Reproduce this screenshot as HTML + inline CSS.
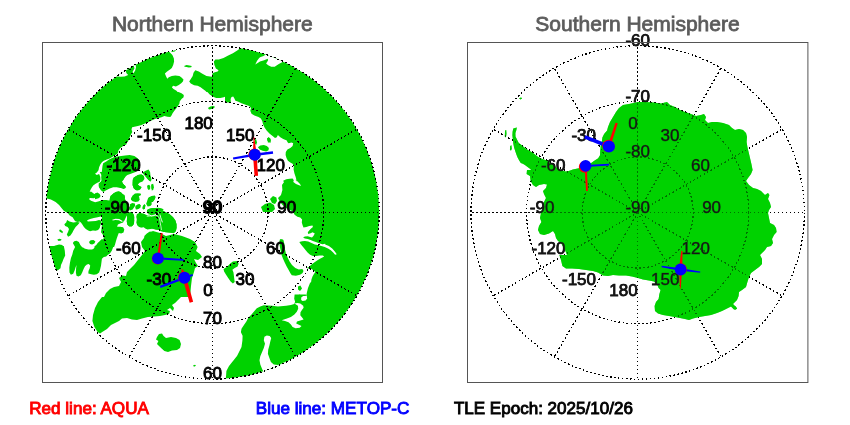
<!DOCTYPE html>
<html><head><meta charset="utf-8"><title>Satellite passes</title>
<style>html,body{margin:0;padding:0;background:#fff}svg{display:block}text{font-family:"Liberation Sans",sans-serif}</style></head><body>
<svg width="850" height="425" viewBox="0 0 850 425">
<rect width="850" height="425" fill="#fff"/>
<defs><clipPath id="cn"><circle cx="212.5" cy="212.5" r="166.7"/></clipPath><clipPath id="cs"><circle cx="637.7" cy="212.5" r="166.7"/></clipPath></defs>
<g clip-path="url(#cn)" fill="#00d200" stroke="none">
<path d="M168.2 49.1 L169.4 52.0 L172.4 54.9 L173.9 58.5 L174.1 61.4 L173.2 64.9 L171.8 67.9 L170.0 69.6 L167.1 71.4 L164.9 73.5 L165.9 76.1 L167.3 78.7 L168.8 77.3 L171.8 76.1 L175.3 75.5 L179.4 75.9 L181.2 77.3 L183.5 79.4 L182.9 81.4 L181.2 83.2 L178.8 84.9 L175.9 86.5 L173.2 85.8 L171.8 87.3 L173.5 89.1 L176.5 90.8 L177.6 92.0 L178.5 92.0 L181.5 93.2 L183.8 94.9 L183.6 97.3 L181.5 99.1 L179.7 101.4 L179.4 103.8 L177.9 106.1 L176.2 108.5 L174.4 110.8 L172.6 113.2 L171.5 115.5 L170.3 116.9 L167.4 116.7 L164.4 116.1 L161.5 117.3 L158.5 118.1 L155.6 118.8 L152.1 120.2 L148.5 122.0 L145.0 123.5 L141.5 124.9 L137.9 126.1 L134.4 126.7 L132.1 127.3 L131.5 129.6 L132.3 132.0 L130.9 134.4 L129.7 137.3 L128.5 140.2 L127.9 142.0 L127.4 142.0 L126.2 144.4 L123.2 146.1 L120.3 147.9 L118.5 150.2 L117.9 153.2 L115.6 154.9 L112.6 156.7 L109.7 158.5 L106.8 159.6 L103.8 160.8 L102.1 162.0 L100.3 164.4 L99.1 167.3 L98.5 170.2 L96.8 172.4 L95.0 173.8 L96.8 174.9 L99.1 174.0 L100.3 176.7 L100.5 179.6 L99.7 181.8 L97.9 182.6 L95.6 183.8 L93.2 185.5 L91.5 187.9 L90.3 190.2 L89.7 192.0 L91.0 191.4 L94.3 194.0 L96.8 193.1 L98.3 194.7 L96.6 196.9 L93.8 198.2 L90.1 198.0 L88.9 199.1 L91.0 200.8 L95.2 202.2 L99.0 201.3 L102.3 200.1 L106.1 199.9 L109.4 200.6 L110.3 196.1 L112.6 194.2 L115.5 192.4 L118.3 191.4 L121.1 192.4 L123.0 194.2 L124.4 196.6 L125.4 199.9 L127.7 203.6 L129.1 208.4 L128.2 212.1 L127.7 213.9 L125.8 217.6 L123.9 221.4 L122.1 217.6 L117.4 215.8 L112.6 216.7 L107.0 218.6 L103.2 220.5 L101.8 216.2 L97.6 217.2 L93.8 218.1 L90.1 219.1 L87.7 220.0 L87.0 220.9 L88.2 221.6 L91.9 221.2 L95.7 220.9 L99.0 220.0 L100.9 220.5 L101.2 222.4 L100.4 225.2 L99.7 228.0 L98.1 229.9 L95.7 230.8 L92.9 230.6 L90.1 231.3 L88.2 230.4 L85.8 228.9 L83.9 227.1 L82.5 224.7 L81.1 222.8 L79.7 221.4 L77.8 221.9 L75.9 221.4 L75.0 220.9 L72.6 217.3 L69.7 215.5 L67.9 213.2 L63.8 210.8 L61.5 207.9 L59.1 204.9 L55.6 202.0 L50.9 199.6 L46.8 198.5 L40.3 196.7 L20.0 150.0 L20.0 20.0 L150.0 20.0Z"/>
<path d="M171.2 51.2 L174.1 50.0 L176.2 50.2 L174.7 51.4 L171.8 52.1Z"/>
<path d="M184.1 65.9 L186.5 65.1 L189.4 65.5 L191.8 66.1 L191.2 67.3 L188.8 67.6 L186.5 66.9 L184.7 66.7Z"/>
<path d="M242.4 45.5 L240.6 48.1 L237.6 50.2 L232.9 53.2 L228.2 55.5 L223.5 57.9 L218.8 59.4 L215.3 59.6 L213.9 61.4 L214.4 64.9 L215.9 68.5 L218.6 70.2 L217.6 71.4 L214.1 72.4 L212.4 73.5 L211.8 76.7 L210.0 76.4 L206.5 75.9 L202.4 73.8 L198.8 71.6 L195.3 70.2 L193.5 72.8 L192.7 76.1 L190.8 79.1 L189.2 81.4 L190.8 83.4 L194.1 85.3 L197.6 85.8 L200.6 87.3 L202.9 89.1 L205.3 90.8 L206.5 92.0 L207.4 92.0 L209.7 94.4 L212.6 96.5 L216.2 97.9 L220.3 98.1 L223.8 97.3 L225.0 96.7 L225.0 102.0 L227.9 102.6 L230.9 102.4 L230.6 99.1 L231.5 96.9 L233.2 96.5 L234.4 98.5 L235.4 100.8 L237.9 101.4 L241.5 103.2 L245.6 104.7 L249.1 106.1 L251.1 107.9 L250.3 110.8 L251.5 113.8 L254.4 115.5 L258.5 116.9 L260.9 118.5 L262.4 121.4 L262.9 123.8 L264.4 127.3 L266.8 130.8 L269.7 133.8 L272.6 136.1 L275.0 137.9 L276.8 137.3 L277.9 134.9 L280.3 137.3 L283.2 139.1 L286.8 140.5 L287.4 142.0 L288.5 143.2 L291.5 142.4 L293.2 143.2 L292.6 146.1 L290.3 147.9 L287.4 149.6 L285.8 152.0 L285.6 154.9 L286.5 157.9 L287.9 160.8 L290.3 162.4 L292.6 163.8 L293.8 166.1 L293.6 169.6 L294.4 173.2 L295.6 176.7 L296.2 179.1 L296.4 182.0 L295.6 179.4 L300.0 184.0 L301.0 186.0 L296.0 184.0 L292.0 181.0 L288.0 179.4 L284.4 181.4 L282.0 185.0 L282.4 190.0 L281.0 195.0 L278.0 198.0 L280.0 202.0 L283.0 205.4 L286.0 208.0 L290.0 210.0 L294.0 212.0 L293.2 212.0 L294.6 214.8 L297.4 216.7 L300.2 217.6 L302.1 219.5 L301.8 222.4 L302.6 225.2 L303.5 227.5 L306.4 227.1 L309.2 226.1 L312.5 225.6 L312.9 227.1 L311.1 228.5 L309.2 230.4 L307.8 232.2 L308.2 234.1 L310.6 233.2 L312.5 232.2 L314.8 233.6 L313.4 236.0 L312.0 237.4 L310.1 236.9 L307.8 236.3 L304.9 236.5 L303.1 237.4 L304.9 238.5 L307.8 239.0 L310.6 240.0 L312.9 240.9 L315.8 242.1 L319.1 243.2 L322.4 244.2 L325.2 243.7 L325.2 244.4 L328.9 246.0 L332.2 248.4 L334.6 251.2 L336.8 254.2 L335.1 254.8 L333.2 252.5 L330.8 250.3 L328.0 248.4 L324.7 246.9 L321.4 246.0 L317.6 245.0 L314.8 244.5 L311.5 243.1 L308.2 241.6 L304.9 241.0 L302.1 241.2 L299.3 242.1 L299.3 242.0 L301.2 244.8 L303.5 247.6 L305.9 250.5 L307.8 252.8 L310.1 254.7 L312.9 256.1 L316.2 256.1 L319.5 255.6 L322.8 255.6 L324.2 256.6 L322.4 257.5 L319.5 258.9 L316.7 260.8 L313.9 262.7 L311.5 264.6 L309.2 266.7 L306.8 267.9 L308.2 268.4 L311.1 268.8 L313.4 270.2 L315.3 272.1 L313.9 274.0 L312.5 276.4 L311.5 279.2 L311.1 282.0 L310.0 283.0 L308.0 288.0 L307.0 292.0 L306.0 297.0 L305.9 297.0 L305.9 294.6 L294.6 294.6 L294.2 298.8 L295.1 301.7 L294.2 304.1 L290.9 305.0 L286.2 305.7 L277.9 306.4 L272.1 305.8 L263.8 305.2 L260.3 306.4 L256.8 308.2 L254.4 311.1 L251.5 314.6 L248.5 317.6 L246.2 321.7 L243.8 325.2 L241.5 328.8 L240.9 332.3 L242.6 335.8 L242.4 340.5 L241.5 347.0 L237.0 356.0 L233.0 361.0 L229.0 366.0 L226.4 371.0 L226.0 377.0 L224.0 385.0 L400.0 400.0 L400.0 20.0 L300.0 20.0Z"/>
<path d="M207.9 107.9 L210.3 106.4 L213.2 105.9 L215.0 106.7 L213.8 108.2 L211.5 109.1 L209.1 109.4Z"/>
<path d="M267.0 138.5 L268.5 137.3 L270.3 138.5 L270.9 140.5 L269.1 142.0 L267.4 140.8Z"/>
<path d="M257.9 147.3 L260.3 145.5 L263.8 144.9 L266.8 145.9 L268.9 147.9 L268.5 150.2 L266.2 151.4 L262.6 150.8 L259.7 149.6Z"/>
<path d="M254.8 139.1 L256.2 139.6 L257.0 142.6 L256.2 144.9 L255.0 143.8Z"/>
<path d="M267.4 138.5 L268.8 137.3 L270.3 139.1 L270.9 142.6 L267.9 142.6Z"/>
<path d="M270.0 199.0 L273.0 196.0 L276.4 197.4 L277.0 201.0 L275.0 204.0 L272.0 203.0Z"/>
<path d="M261.0 207.0 L265.0 204.0 L270.0 202.6 L274.0 205.0 L275.0 209.0 L272.0 212.0 L263.0 212.0Z"/>
<path d="M283.2 180.8 L286.2 179.3 L289.7 178.8 L292.6 178.5 L293.8 180.2 L293.2 182.0 L283.8 182.0Z"/>
<path d="M280.6 239.1 L282.9 239.5 L283.5 240.3 L284.5 244.4 L284.9 249.1 L285.9 253.2 L287.6 257.4 L289.6 261.5 L292.0 265.0 L295.3 267.9 L298.8 269.5 L302.4 269.1 L303.5 270.9 L302.4 273.2 L300.0 274.8 L295.9 275.7 L291.8 275.2 L290.4 273.2 L288.8 270.3 L286.8 266.8 L284.7 262.6 L282.9 258.5 L281.4 254.4 L280.6 250.3 L279.8 246.2 L279.4 242.1 L279.8 239.7Z"/>
<path d="M223.5 269.1 L227.1 266.8 L230.0 263.8 L232.9 261.5 L237.6 261.1 L238.6 263.8 L237.6 266.5 L234.7 267.9 L232.4 269.7 L233.5 272.6 L234.1 277.4 L234.7 282.1 L232.9 283.5 L230.6 281.5 L228.2 277.9 L225.9 274.4 L224.1 271.5Z"/>
<path d="M298.0 286.4 L300.4 285.6 L302.0 288.4 L300.0 291.0 L298.0 289.6Z"/>
<path d="M297.0 295.6 L300.0 294.4 L302.0 297.0 L297.6 297.6Z"/>
<path d="M144.0 238.0 L148.0 233.0 L153.0 231.0 L160.0 233.0 L166.0 236.0 L174.0 234.0 L182.0 236.0 L190.0 239.0 L195.0 242.0 L197.6 247.0 L196.0 251.0 L200.0 254.0 L202.0 257.0 L198.0 260.0 L194.0 259.0 L196.0 263.0 L198.0 266.0 L195.0 268.0 L194.0 272.0 L192.0 278.0 L191.0 286.0 L190.0 297.0 L181.0 297.0 L178.0 300.0 L175.0 303.0 L172.0 305.0 L174.0 308.0 L173.0 311.0 L170.0 308.0 L167.0 310.0 L170.0 311.0 L169.0 314.0 L165.0 315.0 L160.0 316.0 L154.0 316.6 L148.0 317.0 L142.0 318.6 L137.0 320.0 L132.0 319.4 L127.0 318.0 L122.0 318.6 L119.0 321.0 L115.0 323.0 L111.0 325.0 L107.0 329.0 L103.0 331.4 L100.0 333.4 L97.6 332.0 L94.4 327.0 L92.4 321.0 L93.0 315.0 L95.0 308.0 L98.0 302.0 L102.0 297.0 L104.0 297.0 L106.0 293.0 L110.0 289.0 L114.0 287.0 L119.0 286.0 L121.0 282.0 L119.0 278.0 L122.0 275.6 L126.0 276.0 L127.0 272.0 L130.0 269.0 L134.0 265.0 L138.0 260.0 L142.0 255.0 L145.0 251.0 L142.0 247.0 L141.0 242.0Z"/>
<path d="M157.0 337.0 L159.0 334.0 L162.0 333.4 L163.6 336.0 L166.0 338.0 L171.0 337.0 L176.0 338.0 L179.6 340.0 L181.0 344.0 L180.0 348.0 L177.0 350.0 L172.0 350.6 L168.0 352.0 L164.4 351.0 L161.6 348.6 L159.0 346.0 L157.0 344.0 L158.4 341.0 L156.0 339.4Z"/>
<path d="M193.0 365.6 L195.0 364.8 L196.0 365.8 L194.0 366.8Z"/>
<path d="M102.6 165.5 L103.2 163.2 L106.2 161.4 L109.1 159.6 L113.2 157.5 L115.6 156.7 L125.0 155.5 L129.7 154.9 L134.4 156.1 L137.9 158.5 L139.1 160.8 L139.7 165.5 L139.1 169.6 L135.6 172.0 L130.9 173.8 L127.4 174.9 L125.0 176.7 L123.8 179.6 L122.1 181.4 L122.6 183.8 L125.0 185.5 L126.2 187.3 L123.8 188.5 L120.3 187.9 L116.8 187.3 L113.2 187.3 L109.7 188.5 L106.2 190.2 L103.2 192.0 L100.9 190.2 L99.1 185.5 L98.5 183.8 L100.3 182.6 L101.5 180.8 L101.2 177.3 L101.5 173.8 L102.1 169.6 L102.4 166.7Z"/>
<path d="M142.1 172.8 L145.6 170.8 L148.5 169.6 L150.1 172.0 L150.5 176.1 L151.2 179.6 L150.3 181.4 L147.9 179.6 L145.6 176.7 L143.8 174.4Z"/>
<path d="M133.2 179.1 L135.0 176.7 L137.9 174.9 L141.5 174.4 L143.8 176.1 L144.4 179.1 L142.6 181.4 L139.7 182.6 L137.9 184.4 L139.1 186.1 L141.5 187.3 L139.7 189.6 L136.2 190.2 L133.8 188.5 L132.6 184.9 L132.9 182.0Z"/>
<path d="M147.4 185.5 L149.1 184.7 L150.3 186.7 L150.1 189.6 L148.2 189.1Z"/>
<path d="M151.7 184.4 L153.2 183.8 L153.8 187.3 L152.9 190.2 L151.7 188.5Z"/>
<path d="M99.7 172.0 L127.5 172.0 L126.5 174.8 L125.1 177.2 L123.2 179.1 L121.8 181.4 L123.2 183.8 L125.1 186.1 L125.6 188.0 L123.7 188.9 L121.4 188.0 L119.0 186.6 L116.2 185.6 L113.4 186.1 L110.5 187.1 L108.2 188.0 L105.4 188.9 L103.0 189.9 L100.6 189.4 L99.0 187.5 L98.6 185.2 L99.7 182.8 L101.6 180.9 L103.0 178.6 L102.1 175.8 L100.6 173.4Z"/>
<path d="M132.6 180.0 L133.6 177.6 L135.9 176.2 L138.8 174.8 L141.6 174.4 L143.5 175.8 L144.4 178.1 L143.0 180.5 L140.6 181.9 L138.3 182.8 L137.8 184.7 L139.7 186.1 L141.6 187.1 L140.2 189.4 L137.8 190.4 L135.5 189.9 L133.6 188.0 L132.6 185.2 L132.5 182.4Z"/>
<path d="M143.5 172.0 L146.3 172.0 L149.1 174.4 L151.0 177.2 L151.5 180.0 L150.5 181.4 L148.6 180.0 L146.8 177.2 L144.9 174.4Z"/>
<path d="M147.2 186.1 L148.6 185.0 L150.1 186.1 L149.8 188.9 L148.5 190.1 L147.5 188.5Z"/>
<path d="M151.2 184.7 L152.4 183.8 L153.4 186.1 L153.2 189.4 L151.9 190.8 L151.3 188.0Z"/>
<path d="M111.5 195.5 L113.4 193.2 L116.2 191.8 L119.0 191.3 L120.9 192.2 L122.3 194.1 L124.6 195.1 L125.1 197.4 L123.7 199.3 L122.3 203.1 L118.5 204.0 L113.8 203.1 L111.9 199.3Z"/>
<path d="M131.2 197.9 L132.6 195.5 L135.0 193.6 L137.8 193.2 L140.6 193.5 L141.1 195.1 L139.2 196.0 L138.3 197.9 L139.7 199.8 L138.3 201.6 L135.5 202.1 L132.6 201.2 L131.0 199.8Z"/>
<path d="M148.6 197.4 L151.5 196.0 L154.8 195.5 L155.7 196.9 L154.8 199.3 L153.4 201.2 L151.5 202.6 L149.6 204.0 L147.2 205.4 L146.3 203.5 L147.2 200.7 L147.9 198.8Z"/>
<path d="M143.0 205.9 L144.4 204.0 L145.4 205.4 L144.9 208.2 L143.5 209.2 L142.5 207.8Z"/>
<path d="M135.5 205.9 L137.4 204.5 L139.7 204.0 L140.4 205.4 L139.2 207.3 L137.8 209.2 L135.9 209.6 L135.3 207.8Z"/>
<path d="M95.0 193.6 L97.4 192.5 L99.7 194.1 L100.6 196.0 L99.2 197.9 L96.9 198.8 L95.0 199.3Z"/>
<path d="M128.4 208.2 L130.8 204.9 L133.6 204.5 L134.5 206.8 L132.6 209.6 L129.8 210.6Z"/>
<path d="M160.3 212.5 L163.6 212.1 L166.9 213.0 L170.2 214.9 L173.0 217.2 L175.4 220.5 L176.6 224.3 L176.8 228.1 L175.8 231.4 L173.9 233.2 L170.2 232.8 L166.4 232.3 L162.6 231.8 L160.3 230.9 L158.9 229.0 L159.4 226.2 L160.8 223.4 L162.2 221.9 L161.2 219.6 L160.3 217.2 L159.8 214.9Z"/>
<path d="M137.2 213.9 L140.1 213.0 L142.9 214.4 L145.2 215.8 L148.1 215.4 L150.9 216.3 L153.2 217.2 L156.1 216.3 L158.4 215.4 L159.6 217.2 L160.8 220.1 L161.7 222.2 L160.3 223.8 L159.1 226.2 L158.4 229.0 L156.1 229.5 L153.2 228.5 L150.4 229.0 L147.6 229.5 L145.2 228.5 L143.4 227.1 L141.5 227.6 L139.1 227.1 L137.2 225.2 L136.3 222.4 L136.8 219.6 L136.3 216.8Z"/>
<path d="M147.1 211.1 L148.5 209.2 L151.4 208.3 L155.1 208.1 L158.4 207.8 L161.2 208.3 L163.6 209.2 L162.6 211.1 L160.3 212.1 L157.0 213.5 L154.2 215.4 L151.4 215.8 L149.0 214.4 L147.4 213.0Z"/>
<path d="M126.9 213.9 L129.2 212.5 L132.1 212.5 L133.9 214.4 L134.4 217.7 L133.9 221.5 L133.5 224.8 L131.6 226.4 L129.2 226.6 L127.4 224.8 L126.7 221.5 L127.1 217.7Z"/>
<path d="M131.1 197.9 L134.4 197.0 L139.1 197.0 L139.6 199.4 L137.2 200.6 L133.9 200.3 L131.6 199.8Z"/>
<path d="M148.1 198.4 L149.9 197.0 L153.7 197.0 L154.2 199.4 L152.8 201.2 L149.9 202.2 L148.3 200.8Z"/>
<path d="M146.5 204.1 L148.5 202.6 L151.4 202.5 L151.8 204.3 L150.4 205.9 L147.6 206.4Z"/>
<path d="M142.9 206.4 L144.3 204.3 L145.2 205.5 L145.0 208.3 L143.6 209.7 L142.6 208.3Z"/>
<path d="M136.5 205.9 L138.6 204.5 L140.8 205.0 L140.5 207.4 L138.6 209.0 L136.8 208.3Z"/>
<path d="M129.7 204.5 L132.1 203.1 L134.9 203.6 L135.2 205.9 L133.0 207.2 L130.2 206.9Z"/>
<path d="M144.3 236.1 L146.6 233.7 L149.9 231.6 L153.2 232.3 L156.1 234.2 L157.5 237.0 L157.0 239.4 L144.3 239.4Z"/>
<path d="M64.3 224.2 L66.2 222.4 L67.1 220.0 L69.5 221.4 L73.2 222.4 L77.0 221.9 L79.8 222.4 L77.9 224.7 L75.6 227.1 L73.7 229.9 L72.3 232.7 L70.4 235.5 L68.1 236.7 L66.8 234.6 L68.1 231.8 L69.0 228.9 L67.6 227.1 L65.2 226.1Z"/>
<path d="M59.1 229.9 L60.5 229.4 L62.4 231.3 L62.9 233.2 L61.0 232.5 L59.6 231.3Z"/>
<path d="M57.2 239.8 L59.1 238.8 L61.5 239.3 L61.0 240.5 L58.6 241.0Z"/>
<path d="M89.0 242.1 L90.6 240.2 L93.5 240.0 L95.4 241.4 L94.4 243.5 L92.1 244.5 L90.0 244.0Z"/>
<path d="M101.9 217.4 L104.2 215.0 L108.0 213.6 L112.2 213.1 L116.5 213.6 L120.2 215.0 L123.1 217.4 L124.0 220.2 L123.1 222.5 L120.2 223.5 L117.9 224.4 L117.1 226.8 L120.2 226.8 L123.1 227.2 L124.3 229.6 L123.5 232.4 L121.2 233.5 L118.8 232.9 L117.9 235.2 L116.9 238.1 L116.0 240.9 L115.1 244.2 L114.1 247.0 L113.2 247.0 L111.8 250.8 L109.9 253.6 L107.6 255.0 L106.2 256.4 L103.8 256.9 L101.9 258.8 L101.5 262.1 L101.0 265.8 L100.1 269.6 L99.1 272.4 L96.8 274.3 L93.9 274.8 L91.1 274.3 L88.3 273.4 L88.5 271.0 L89.7 268.2 L90.2 265.4 L88.8 263.9 L86.9 264.4 L85.0 266.3 L83.6 269.1 L82.2 272.4 L80.8 275.2 L78.4 276.6 L76.5 275.7 L75.9 272.4 L76.1 268.6 L76.5 264.9 L75.6 267.2 L74.6 270.5 L73.2 273.8 L70.9 274.8 L69.5 272.4 L69.3 267.7 L69.9 263.0 L70.9 258.3 L72.3 254.5 L73.2 250.8 L75.1 247.0 L72.8 243.1 L74.2 241.2 L76.5 240.7 L78.9 242.1 L80.3 244.9 L82.2 247.3 L85.0 248.2 L88.3 247.8 L91.6 248.2 L93.9 246.8 L96.3 244.9 L97.7 243.1 L99.6 241.2 L101.5 239.3 L103.4 239.3 L103.8 236.5 L102.4 234.1 L101.0 232.2 L101.5 228.9 L101.9 225.2 L101.5 220.9Z"/>
<path d="M35.6 246.1 L63.8 246.1 L64.8 250.8 L65.2 255.5 L63.4 259.2 L62.4 262.1 L61.0 264.9 L60.5 268.2 L58.2 270.1 L55.8 271.0 L50.6 275.2 L35.6 256.4Z"/>
<path d="M49.7 249.2 L52.1 246.8 L55.4 245.4 L59.1 244.5 L62.4 244.9 L63.4 247.8 L63.4 252.0 L49.7 252.0 L45.0 249.6Z"/>
<path d="M126.8 215.5 L128.2 213.1 L131.1 211.7 L132.9 212.6 L132.5 215.0 L133.4 217.4 L134.4 220.2 L133.9 223.9 L132.0 226.3 L129.2 226.3 L127.3 224.4 L126.8 221.1 L127.3 218.3Z"/>
<path d="M136.7 214.5 L139.5 213.1 L143.3 213.6 L146.6 215.0 L148.9 216.4 L151.8 215.9 L154.6 215.0 L157.4 215.9 L159.3 218.3 L159.8 221.1 L160.2 223.9 L160.7 226.8 L161.2 229.6 L158.4 230.1 L155.1 229.6 L151.8 228.6 L148.9 227.7 L146.1 226.3 L143.3 227.2 L140.5 227.2 L138.1 225.8 L136.9 223.5 L137.6 220.6 L136.9 217.8Z"/>
<path d="M147.1 209.8 L149.9 208.4 L153.6 208.1 L157.4 208.4 L160.2 209.4 L163.5 210.8 L165.9 212.2 L169.6 214.1 L172.9 216.9 L175.3 220.2 L176.4 223.9 L176.2 227.7 L175.3 230.5 L173.4 232.2 L169.6 232.4 L165.9 232.2 L163.1 231.7 L161.6 229.1 L161.0 225.8 L160.2 222.1 L159.8 218.3 L157.9 215.9 L155.1 214.5 L152.2 215.5 L149.4 215.9 L147.5 213.6 L146.9 211.7Z"/>
<g fill="#fff">
<path d="M115.3 76.4 L125.3 70.0 L126.5 73.2 L128.2 74.9 L124.7 76.4 L120.6 76.8 L117.6 76.6Z"/>
<path d="M133.2 65.3 L135.5 64.1 L136.0 67.3 L135.3 70.2 L133.6 73.2 L132.5 72.0 L134.4 68.5 L133.9 66.1Z"/>
<path d="M260.0 57.3 L263.5 55.9 L265.9 54.5 L284.1 61.2 L278.8 64.1 L274.7 66.7 L271.2 66.7 L268.2 65.3 L266.1 63.4 L268.0 60.6 L267.8 58.7 L264.1 60.2 L260.0 61.4 L255.3 64.4 L257.1 60.8 L258.8 58.5Z"/>
<path d="M294.4 303.5 L297.4 302.9 L300.3 303.5 L303.2 305.8 L303.6 307.8 L302.1 309.7 L300.5 312.3 L300.3 315.2 L302.1 317.6 L303.6 319.4 L300.3 320.5 L297.0 321.4 L296.2 323.5 L298.9 324.8 L301.5 325.9 L299.7 327.8 L295.6 328.2 L292.6 327.0 L290.9 324.6 L288.5 322.3 L285.0 321.1 L281.7 320.2 L286.2 318.8 L290.9 317.0 L294.4 314.6 L296.8 311.7 L298.2 308.8 L297.9 305.8Z"/>
<path d="M301.2 297.6 L303.2 296.1 L306.8 296.1 L307.1 298.4 L305.6 300.5 L302.6 301.1 L301.2 299.9Z"/>
<path d="M264.4 336.8 L266.8 335.6 L269.7 335.9 L271.2 337.9 L270.3 341.5 L269.4 345.6 L268.2 349.7 L267.9 353.8 L269.4 357.9 L270.9 362.1 L273.8 364.4 L277.9 365.0 L281.5 363.8 L285.6 361.5 L285.6 365.6 L273.8 371.5 L264.4 373.8 L262.1 369.1 L260.3 364.4 L259.5 360.3 L260.3 356.2 L262.1 352.1 L263.8 347.9 L265.0 343.8 L263.8 340.3Z"/>
<path d="M112.2 219.7 L115.5 218.8 L119.3 219.0 L122.6 221.1 L122.1 221.9 L118.8 220.2 L115.5 220.0 L112.7 220.6Z"/>
<path d="M83.1 246.5 L84.5 248.4 L88.3 249.4 L92.1 249.6 L93.9 248.4 L94.9 246.5Z"/>
</g>
<g fill="none" stroke="#fff" stroke-linecap="round" stroke-linejoin="round"><path stroke-width="0.9" d="M147.4 213.2 L149.0 214.7 L151.4 216.0 L154.2 215.6 L157.0 213.8 L160.0 212.3"/><path stroke-width="0.9" d="M160.0 214.9 L160.6 217.2 L161.5 219.8 L162.3 222.0"/><path stroke-width="0.7" d="M147.1 216.2 L149.4 216.1 L152.2 215.7 L155.1 214.7 L157.6 215.9 L159.5 218.3 L160.0 221.1 L160.4 223.9 L161.0 226.8 L161.4 229.6"/></g>
</g>
<g clip-path="url(#cs)" fill="#00d200" stroke="none">
<path d="M513.3 128.5 L516.8 127.5 L516.4 130.0 L515.4 132.9 L515.5 136.5 L517.1 139.8 L518.8 142.9 L521.8 145.3 L525.3 148.2 L528.8 150.6 L532.4 152.4 L535.3 154.7 L538.2 157.1 L541.8 158.8 L545.3 160.0 L547.6 160.8 L551.8 164.1 L558.8 169.4 L565.3 171.4 L568.8 170.9 L572.9 169.4 L578.8 168.2 L587.1 165.3 L591.2 162.9 L594.7 160.6 L598.2 158.2 L600.0 155.3 L600.2 151.2 L600.6 146.5 L601.8 141.8 L602.4 137.6 L604.1 134.1 L607.1 130.6 L608.0 127.0 L610.0 122.0 L613.0 117.0 L616.0 112.0 L619.0 108.0 L623.0 105.0 L629.0 104.0 L637.0 102.2 L637.0 102.0 L645.0 102.0 L653.0 102.6 L661.0 103.4 L667.0 102.0 L670.0 105.0 L675.0 107.0 L680.0 110.0 L685.0 112.0 L691.0 114.0 L696.0 116.0 L701.0 115.0 L704.0 114.0 L706.0 117.0 L705.0 120.0 L708.0 123.0 L712.0 122.0 L717.0 122.0 L723.0 123.0 L729.0 125.0 L732.0 128.0 L735.0 130.0 L739.0 129.0 L743.0 130.0 L746.0 133.0 L747.0 137.0 L746.6 142.0 L747.4 147.0 L748.6 152.0 L750.0 158.0 L751.4 164.0 L752.6 170.0 L752.6 170.0 L751.0 174.0 L748.0 178.0 L746.0 181.0 L749.0 185.0 L753.0 188.0 L757.0 189.0 L761.0 191.0 L765.0 195.0 L768.0 193.0 L769.4 195.0 L768.0 199.0 L770.0 203.0 L771.0 207.0 L769.0 210.0 L768.0 213.0 L769.0 218.0 L770.0 223.0 L774.0 225.0 L776.0 228.0 L776.6 232.0 L774.0 235.0 L772.0 239.0 L773.0 243.0 L771.0 246.0 L767.0 247.0 L765.0 250.0 L762.0 253.0 L760.0 255.0 L760.0 255.0 L762.0 259.0 L762.0 264.0 L759.0 267.0 L755.0 270.0 L751.0 273.0 L749.0 277.0 L747.4 282.0 L746.0 287.0 L742.0 290.0 L739.0 292.0 L738.6 296.0 L737.0 300.0 L733.0 304.0 L736.0 307.0 L737.0 309.0 L734.0 309.4 L731.0 306.6 L727.0 308.6 L722.0 311.0 L717.0 313.0 L711.0 315.0 L705.0 316.0 L699.0 317.0 L693.0 318.6 L689.0 320.0 L685.0 319.0 L680.0 318.0 L675.0 317.0 L669.0 316.0 L663.0 315.0 L658.0 313.4 L655.0 311.0 L654.6 306.0 L656.0 302.0 L658.6 299.0 L659.4 294.0 L660.6 290.0 L658.6 288.0 L657.0 284.0 L654.0 281.4 L649.0 280.6 L643.0 279.4 L638.0 278.0 L638.0 278.0 L632.0 276.6 L626.0 275.6 L619.0 275.6 L613.0 275.0 L608.0 276.0 L603.0 275.6 L598.0 272.4 L593.0 271.0 L586.0 270.0 L579.0 269.0 L572.0 268.4 L566.0 268.4 L562.4 266.0 L561.0 260.0 L559.4 255.0 L567.0 255.0 L565.0 250.0 L561.0 243.0 L558.0 241.0 L556.0 238.0 L555.0 234.0 L553.0 231.0 L549.0 233.6 L544.0 235.0 L540.0 234.0 L538.0 230.0 L539.0 226.0 L541.4 222.0 L540.0 218.0 L541.0 213.0 L542.6 208.0 L544.0 202.0 L546.0 198.0 L544.0 194.0 L543.0 191.0 L546.0 188.0 L547.0 184.4 L544.0 184.0 L539.0 185.0 L536.0 187.0 L533.0 185.0 L530.6 181.0 L530.0 176.0 L526.6 174.0 L527.0 170.0 L531.2 170.0 L530.0 168.8 L527.6 167.1 L525.3 165.3 L522.9 163.8 L520.8 162.9 L519.2 160.6 L517.6 157.6 L516.5 154.7 L515.3 151.2 L514.1 147.6 L513.3 143.5 L512.9 139.4 L512.4 135.3 L512.6 131.8Z"/>
<path d="M505.1 130.6 L506.2 130.0 L506.5 134.1 L505.9 137.6 L504.8 136.5Z"/>
<path d="M510.2 145.9 L511.4 145.3 L511.8 148.8 L510.9 150.8 L510.0 149.4Z"/>
<path d="M519.0 98.2 L521.0 97.4 L522.2 98.2 L520.6 99.4Z"/>
<path d="M732.6 306.6 L735.0 306.0 L737.0 308.6 L735.0 309.8Z"/>
</g>
<g fill="none" stroke="#000" stroke-width="1.3" stroke-dasharray="1.7 2.3" shape-rendering="crispEdges">
<circle cx="212.5" cy="212.5" r="166.70"/>
<circle cx="212.5" cy="212.5" r="111.13"/>
<circle cx="212.5" cy="212.5" r="55.57"/>
<line x1="212.50" y1="212.50" x2="212.50" y2="379.20"/>
<line x1="212.50" y1="212.50" x2="295.85" y2="356.87"/>
<line x1="212.50" y1="212.50" x2="356.87" y2="295.85"/>
<line x1="212.50" y1="212.50" x2="379.20" y2="212.50"/>
<line x1="212.50" y1="212.50" x2="356.87" y2="129.15"/>
<line x1="212.50" y1="212.50" x2="295.85" y2="68.13"/>
<line x1="212.50" y1="212.50" x2="212.50" y2="45.80"/>
<line x1="212.50" y1="212.50" x2="129.15" y2="68.13"/>
<line x1="212.50" y1="212.50" x2="68.13" y2="129.15"/>
<line x1="212.50" y1="212.50" x2="45.80" y2="212.50"/>
<line x1="212.50" y1="212.50" x2="68.13" y2="295.85"/>
<line x1="212.50" y1="212.50" x2="129.15" y2="356.87"/>
</g>
<g fill="none" stroke="#000" stroke-width="1.3" stroke-dasharray="1.7 2.3" shape-rendering="crispEdges">
<circle cx="637.7" cy="212.5" r="166.70"/>
<circle cx="637.7" cy="212.5" r="111.13"/>
<circle cx="637.7" cy="212.5" r="55.57"/>
<line x1="637.70" y1="212.50" x2="637.70" y2="379.20"/>
<line x1="637.70" y1="212.50" x2="721.05" y2="356.87"/>
<line x1="637.70" y1="212.50" x2="782.07" y2="295.85"/>
<line x1="637.70" y1="212.50" x2="804.40" y2="212.50"/>
<line x1="637.70" y1="212.50" x2="782.07" y2="129.15"/>
<line x1="637.70" y1="212.50" x2="721.05" y2="68.13"/>
<line x1="637.70" y1="212.50" x2="637.70" y2="45.80"/>
<line x1="637.70" y1="212.50" x2="554.35" y2="68.13"/>
<line x1="637.70" y1="212.50" x2="493.33" y2="129.15"/>
<line x1="637.70" y1="212.50" x2="471.00" y2="212.50"/>
<line x1="637.70" y1="212.50" x2="493.33" y2="295.85"/>
<line x1="637.70" y1="212.50" x2="554.35" y2="356.87"/>
</g>
<text x="596.03" y="284.88" text-anchor="end" font-size="17" fill="#161616" stroke="#161616" stroke-width="0.75">-150</text>
<text x="565.52" y="254.37" text-anchor="end" font-size="17" fill="#161616" stroke="#161616" stroke-width="0.75">-120</text>
<text x="554.35" y="212.70" text-anchor="end" font-size="17" fill="#161616" stroke="#161616" stroke-width="0.75">-90</text>
<text x="565.52" y="171.02" text-anchor="end" font-size="17" fill="#161616" stroke="#161616" stroke-width="0.75">-60</text>
<text x="596.03" y="140.52" text-anchor="end" font-size="17" fill="#161616" stroke="#161616" stroke-width="0.75">-30</text>
<text x="637.70" y="129.35" text-anchor="end" font-size="17" fill="#161616" stroke="#161616" stroke-width="0.75">0</text>
<text x="679.38" y="140.52" text-anchor="end" font-size="17" fill="#161616" stroke="#161616" stroke-width="0.75">30</text>
<text x="709.88" y="171.02" text-anchor="end" font-size="17" fill="#161616" stroke="#161616" stroke-width="0.75">60</text>
<text x="721.05" y="212.70" text-anchor="end" font-size="17" fill="#161616" stroke="#161616" stroke-width="0.75">90</text>
<text x="709.88" y="254.37" text-anchor="end" font-size="17" fill="#161616" stroke="#161616" stroke-width="0.75">120</text>
<text x="679.38" y="284.88" text-anchor="end" font-size="17" fill="#161616" stroke="#161616" stroke-width="0.75">150</text>
<text x="637.70" y="296.05" text-anchor="end" font-size="17" fill="#161616" stroke="#161616" stroke-width="0.75">180</text>
<text x="637.70" y="212.70" text-anchor="middle" font-size="17" fill="#161616" stroke="#161616" stroke-width="0.75">-90</text>
<text x="637.70" y="157.13" text-anchor="middle" font-size="17" fill="#161616" stroke="#161616" stroke-width="0.75">-80</text>
<text x="637.70" y="101.57" text-anchor="middle" font-size="17" fill="#161616" stroke="#161616" stroke-width="0.75">-70</text>
<text x="637.70" y="46.00" text-anchor="middle" font-size="17" fill="#161616" stroke="#161616" stroke-width="0.75">-60</text>
<g clip-path="url(#cs)" fill="#00d200" fill-opacity="0.55" stroke="none">
<path d="M513.3 128.5 L516.8 127.5 L516.4 130.0 L515.4 132.9 L515.5 136.5 L517.1 139.8 L518.8 142.9 L521.8 145.3 L525.3 148.2 L528.8 150.6 L532.4 152.4 L535.3 154.7 L538.2 157.1 L541.8 158.8 L545.3 160.0 L547.6 160.8 L551.8 164.1 L558.8 169.4 L565.3 171.4 L568.8 170.9 L572.9 169.4 L578.8 168.2 L587.1 165.3 L591.2 162.9 L594.7 160.6 L598.2 158.2 L600.0 155.3 L600.2 151.2 L600.6 146.5 L601.8 141.8 L602.4 137.6 L604.1 134.1 L607.1 130.6 L608.0 127.0 L610.0 122.0 L613.0 117.0 L616.0 112.0 L619.0 108.0 L623.0 105.0 L629.0 104.0 L637.0 102.2 L637.0 102.0 L645.0 102.0 L653.0 102.6 L661.0 103.4 L667.0 102.0 L670.0 105.0 L675.0 107.0 L680.0 110.0 L685.0 112.0 L691.0 114.0 L696.0 116.0 L701.0 115.0 L704.0 114.0 L706.0 117.0 L705.0 120.0 L708.0 123.0 L712.0 122.0 L717.0 122.0 L723.0 123.0 L729.0 125.0 L732.0 128.0 L735.0 130.0 L739.0 129.0 L743.0 130.0 L746.0 133.0 L747.0 137.0 L746.6 142.0 L747.4 147.0 L748.6 152.0 L750.0 158.0 L751.4 164.0 L752.6 170.0 L752.6 170.0 L751.0 174.0 L748.0 178.0 L746.0 181.0 L749.0 185.0 L753.0 188.0 L757.0 189.0 L761.0 191.0 L765.0 195.0 L768.0 193.0 L769.4 195.0 L768.0 199.0 L770.0 203.0 L771.0 207.0 L769.0 210.0 L768.0 213.0 L769.0 218.0 L770.0 223.0 L774.0 225.0 L776.0 228.0 L776.6 232.0 L774.0 235.0 L772.0 239.0 L773.0 243.0 L771.0 246.0 L767.0 247.0 L765.0 250.0 L762.0 253.0 L760.0 255.0 L760.0 255.0 L762.0 259.0 L762.0 264.0 L759.0 267.0 L755.0 270.0 L751.0 273.0 L749.0 277.0 L747.4 282.0 L746.0 287.0 L742.0 290.0 L739.0 292.0 L738.6 296.0 L737.0 300.0 L733.0 304.0 L736.0 307.0 L737.0 309.0 L734.0 309.4 L731.0 306.6 L727.0 308.6 L722.0 311.0 L717.0 313.0 L711.0 315.0 L705.0 316.0 L699.0 317.0 L693.0 318.6 L689.0 320.0 L685.0 319.0 L680.0 318.0 L675.0 317.0 L669.0 316.0 L663.0 315.0 L658.0 313.4 L655.0 311.0 L654.6 306.0 L656.0 302.0 L658.6 299.0 L659.4 294.0 L660.6 290.0 L658.6 288.0 L657.0 284.0 L654.0 281.4 L649.0 280.6 L643.0 279.4 L638.0 278.0 L638.0 278.0 L632.0 276.6 L626.0 275.6 L619.0 275.6 L613.0 275.0 L608.0 276.0 L603.0 275.6 L598.0 272.4 L593.0 271.0 L586.0 270.0 L579.0 269.0 L572.0 268.4 L566.0 268.4 L562.4 266.0 L561.0 260.0 L559.4 255.0 L567.0 255.0 L565.0 250.0 L561.0 243.0 L558.0 241.0 L556.0 238.0 L555.0 234.0 L553.0 231.0 L549.0 233.6 L544.0 235.0 L540.0 234.0 L538.0 230.0 L539.0 226.0 L541.4 222.0 L540.0 218.0 L541.0 213.0 L542.6 208.0 L544.0 202.0 L546.0 198.0 L544.0 194.0 L543.0 191.0 L546.0 188.0 L547.0 184.4 L544.0 184.0 L539.0 185.0 L536.0 187.0 L533.0 185.0 L530.6 181.0 L530.0 176.0 L526.6 174.0 L527.0 170.0 L531.2 170.0 L530.0 168.8 L527.6 167.1 L525.3 165.3 L522.9 163.8 L520.8 162.9 L519.2 160.6 L517.6 157.6 L516.5 154.7 L515.3 151.2 L514.1 147.6 L513.3 143.5 L512.9 139.4 L512.4 135.3 L512.6 131.8Z"/>
<path d="M505.1 130.6 L506.2 130.0 L506.5 134.1 L505.9 137.6 L504.8 136.5Z"/>
<path d="M510.2 145.9 L511.4 145.3 L511.8 148.8 L510.9 150.8 L510.0 149.4Z"/>
<path d="M519.0 98.2 L521.0 97.4 L522.2 98.2 L520.6 99.4Z"/>
<path d="M732.6 306.6 L735.0 306.0 L737.0 308.6 L735.0 309.8Z"/>
</g>
<text x="596.03" y="284.88" text-anchor="end" font-size="17" fill="#161616">-150</text>
<text x="565.52" y="254.37" text-anchor="end" font-size="17" fill="#161616">-120</text>
<text x="554.35" y="212.70" text-anchor="end" font-size="17" fill="#161616">-90</text>
<text x="565.52" y="171.02" text-anchor="end" font-size="17" fill="#161616">-60</text>
<text x="596.03" y="140.52" text-anchor="end" font-size="17" fill="#161616">-30</text>
<text x="637.70" y="129.35" text-anchor="end" font-size="17" fill="#161616">0</text>
<text x="679.38" y="140.52" text-anchor="end" font-size="17" fill="#161616">30</text>
<text x="709.88" y="171.02" text-anchor="end" font-size="17" fill="#161616">60</text>
<text x="721.05" y="212.70" text-anchor="end" font-size="17" fill="#161616">90</text>
<text x="709.88" y="254.37" text-anchor="end" font-size="17" fill="#161616">120</text>
<text x="679.38" y="284.88" text-anchor="end" font-size="17" fill="#161616">150</text>
<text x="637.70" y="296.05" text-anchor="end" font-size="17" fill="#161616">180</text>
<text x="637.70" y="212.70" text-anchor="middle" font-size="17" fill="#161616">-90</text>
<text x="637.70" y="157.13" text-anchor="middle" font-size="17" fill="#161616">-80</text>
<text x="637.70" y="101.57" text-anchor="middle" font-size="17" fill="#161616">-70</text>
<text x="637.70" y="46.00" text-anchor="middle" font-size="17" fill="#161616">-60</text>
<rect x="42.5" y="42.5" width="340" height="340" fill="none" stroke="#555" stroke-width="1"/>
<rect x="467.5" y="42.5" width="340.4" height="340" fill="none" stroke="#555" stroke-width="1"/>
<text x="171.13" y="140.52" text-anchor="end" font-size="17" fill="#000" stroke="#000" stroke-width="0.9">-150</text>
<text x="140.62" y="171.03" text-anchor="end" font-size="17" fill="#000" stroke="#000" stroke-width="0.9">-120</text>
<text x="129.45" y="212.70" text-anchor="end" font-size="17" fill="#000" stroke="#000" stroke-width="0.9">-90</text>
<text x="140.62" y="254.38" text-anchor="end" font-size="17" fill="#000" stroke="#000" stroke-width="0.9">-60</text>
<text x="171.13" y="284.88" text-anchor="end" font-size="17" fill="#000" stroke="#000" stroke-width="0.9">-30</text>
<text x="212.80" y="296.05" text-anchor="end" font-size="17" fill="#000" stroke="#000" stroke-width="0.9">0</text>
<text x="254.47" y="284.88" text-anchor="end" font-size="17" fill="#000" stroke="#000" stroke-width="0.9">30</text>
<text x="284.98" y="254.38" text-anchor="end" font-size="17" fill="#000" stroke="#000" stroke-width="0.9">60</text>
<text x="296.15" y="212.70" text-anchor="end" font-size="17" fill="#000" stroke="#000" stroke-width="0.9">90</text>
<text x="284.98" y="171.03" text-anchor="end" font-size="17" fill="#000" stroke="#000" stroke-width="0.9">120</text>
<text x="254.47" y="140.52" text-anchor="end" font-size="17" fill="#000" stroke="#000" stroke-width="0.9">150</text>
<text x="212.80" y="129.35" text-anchor="end" font-size="17" fill="#000" stroke="#000" stroke-width="0.9">180</text>
<text x="212.50" y="212.70" text-anchor="middle" font-size="17" fill="#000" stroke="#000" stroke-width="2.0">90</text>
<text x="212.50" y="268.27" text-anchor="middle" font-size="17" fill="#000" stroke="#000" stroke-width="0.9">80</text>
<text x="212.50" y="323.83" text-anchor="middle" font-size="17" fill="#000" stroke="#000" stroke-width="0.9">70</text>
<text x="212.50" y="379.40" text-anchor="middle" font-size="17" fill="#000" stroke="#000" stroke-width="0.9">60</text>
<text x="212.30" y="30.60" text-anchor="middle" font-size="21.0" fill="#5c5c5c" stroke="#5c5c5c" stroke-width="0.8">Northern Hemisphere</text>
<text x="637.50" y="30.60" text-anchor="middle" font-size="21.0" fill="#5c5c5c" stroke="#5c5c5c" stroke-width="0.8">Southern Hemisphere</text>
<text x="29.20" y="413.60" text-anchor="start" font-size="17.1" fill="#ff0000" stroke="#ff0000" stroke-width="0.9">Red line: AQUA</text>
<text x="255.80" y="413.60" text-anchor="start" font-size="17.1" fill="#0000ff" stroke="#0000ff" stroke-width="0.9">Blue line: METOP-C</text>
<text x="453.90" y="413.60" text-anchor="start" font-size="17.05" fill="#000" stroke="#000" stroke-width="0.9">TLE Epoch: 2025/10/26</text>
<path fill="#ff0000" d="M253.60 137.02 L252.85 154.80 L256.75 154.60 L254.20 136.98Z"/>
<path fill="#ff0000" d="M253.00 154.83 L254.55 175.92 L258.05 175.68 L256.60 154.57Z"/>
<path fill="#0000ff" d="M233.29 159.58 L255.02 155.93 L254.58 153.47 L232.91 157.42Z"/>
<path fill="#0000ff" d="M254.96 155.99 L273.16 153.64 L272.84 151.16 L254.64 153.41Z"/>
<circle cx="254.40" cy="154.40" r="6.00" fill="#ff0000"/>
<circle cx="254.80" cy="154.70" r="6.00" fill="#0000ff"/>
<path fill="#ff0000" d="M160.86 232.96 L156.81 258.12 L159.19 258.48 L162.74 233.24Z"/>
<path fill="#0000ff" d="M157.94 259.40 L183.55 260.70 L183.65 258.90 L158.06 257.20Z"/>
<circle cx="157.70" cy="258.60" r="5.90" fill="#ff0000"/>
<circle cx="158.00" cy="258.30" r="5.90" fill="#0000ff"/>
<path fill="#ff0000" d="M181.14 269.66 L183.24 278.12 L185.56 277.48 L183.06 269.14Z"/>
<path fill="#ff0000" d="M182.57 278.32 L189.67 302.79 L193.13 301.81 L186.23 277.28Z"/>
<path fill="#0000ff" d="M160.60 287.98 L184.84 278.97 L183.96 276.63 L159.80 285.82Z"/>
<path fill="#0000ff" d="M184.78 278.89 L193.01 275.80 L192.39 274.00 L184.02 276.71Z"/>
<circle cx="184.00" cy="277.50" r="6.00" fill="#ff0000"/>
<circle cx="184.40" cy="277.80" r="6.00" fill="#0000ff"/>
<path fill="#ff0000" d="M615.46 122.63 L607.57 146.06 L610.23 146.94 L617.74 123.37Z"/>
<path fill="#0000ff" d="M584.17 138.48 L608.16 148.36 L609.64 144.64 L585.43 135.32Z"/>
<circle cx="608.40" cy="145.90" r="6.10" fill="#ff0000"/>
<circle cx="608.90" cy="146.50" r="6.10" fill="#0000ff"/>
<path fill="#ff0000" d="M584.50 165.96 L586.10 191.05 L587.90 190.95 L586.70 165.84Z"/>
<path fill="#0000ff" d="M585.66 166.90 L609.14 165.40 L609.06 163.80 L585.54 164.90Z"/>
<circle cx="584.60" cy="166.90" r="5.80" fill="#ff0000"/>
<circle cx="585.60" cy="165.90" r="5.80" fill="#0000ff"/>
<path fill="#ff0000" d="M681.30 250.86 L678.95 269.38 L682.25 269.62 L682.50 250.94Z"/>
<path fill="#ff0000" d="M679.10 269.48 L679.90 288.79 L680.70 288.81 L682.10 269.52Z"/>
<path fill="#0000ff" d="M661.49 267.19 L680.40 270.78 L680.80 268.22 L661.71 265.81Z"/>
<path fill="#0000ff" d="M680.43 270.79 L700.11 272.79 L700.29 271.41 L680.77 268.21Z"/>
<circle cx="680.90" cy="269.20" r="5.90" fill="#ff0000"/>
<circle cx="680.60" cy="269.50" r="5.90" fill="#0000ff"/>
</svg></body></html>
